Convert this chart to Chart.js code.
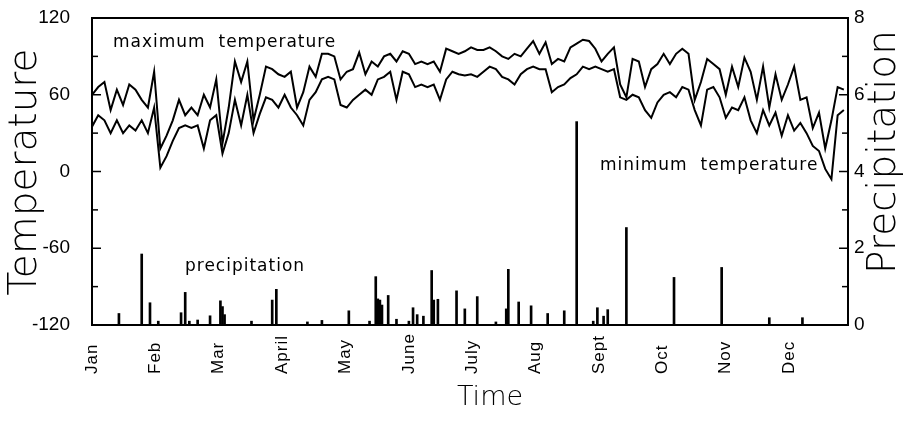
<!DOCTYPE html>
<html>
<head>
<meta charset="utf-8">
<script src="https://cdn.jsdelivr.net/npm/chart.js@4.4.0/dist/chart.umd.min.js"></script>
<style>
  html, body { margin: 0; background: #fff; }
</style>
</head>
<body>
<canvas id="canvas" width="905" height="425"></canvas>
<script>
const canvas = document.getElementById('canvas');
const ctx = canvas.getContext('2d');

// temperatures read every 3 days, starting Jan 1
const tempStep = 3;
const maxTemp = [
  60, 66, 70, 48, 64, 52, 68, 64, 56, 50,
  78, 18, 28, 40, 56, 44, 50, 44, 60, 50,
  72, 22, 50, 86, 70, 86, 40, 60, 82, 80,
  76, 74, 78, 50, 62, 82, 74, 92, 92, 90,
  72, 78, 80, 93, 76, 86, 82, 90, 92, 86,
  94, 92, 84, 86, 84, 86, 78, 96, 94, 92,
  94, 97, 95, 95, 97, 94, 90, 88, 92, 90,
  96, 102, 92, 101, 84, 88, 86, 97, 100, 103,
  102, 96, 86, 92, 97, 68, 58, 88, 86, 66,
  80, 84, 92, 84, 92, 96, 92, 56, 70, 88,
  84, 80, 60, 82, 66, 89, 78, 56, 82, 50,
  76, 56, 68, 82, 56, 58, 34, 46, 18, 40,
  66, 64,
];
const minTemp = [
  35, 44, 40, 30, 40, 30, 36, 32, 40, 30,
  50, 3, 12, 24, 34, 36, 34, 36, 18, 40,
  44, 14, 30, 56, 36, 60, 30, 45, 58, 56,
  50, 60, 50, 44, 36, 56, 62, 72, 74, 72,
  52, 50, 56, 60, 64, 60, 72, 74, 78, 56,
  78, 76, 66, 68, 66, 68, 56, 72, 78, 76,
  75, 76, 74, 78, 82, 80, 74, 72, 68, 76,
  80, 82, 80, 80, 62, 66, 68, 73, 76, 82,
  80, 82, 80, 78, 80, 58, 56, 60, 58, 48,
  42, 54, 60, 62, 58, 66, 64, 48, 36, 64,
  66, 58, 42, 50, 48, 58, 40, 30, 48, 36,
  46, 28, 44, 32, 38, 30, 20, 16, 2, -6,
  44, 48,
];

// precipitation events: day of year and amount
const precipDays = [
  13, 24, 28, 32, 43, 45, 47, 51, 57, 62, 63, 64, 77, 87, 89,
  104, 111, 124, 134, 137, 138, 139, 140, 143, 147, 153, 155, 157, 160,
  164, 165, 167, 176, 180, 186, 195, 200, 201, 206, 212, 220, 228,
  234, 242, 244, 247, 249, 258, 281, 304, 327, 343,
];
const precipValues = [
  0.3, 1.85, 0.58, 0.1, 0.32, 0.85, 0.1, 0.13, 0.24, 0.63, 0.48, 0.27, 0.1, 0.65, 0.93,
  0.08, 0.12, 0.37, 0.1, 1.26, 0.68, 0.65, 0.52, 0.77, 0.15, 0.1, 0.45, 0.27, 0.23,
  1.42, 0.65, 0.67, 0.89, 0.42, 0.74, 0.08, 0.42, 1.45, 0.6, 0.5, 0.3, 0.37,
  5.3, 0.1, 0.45, 0.23, 0.4, 2.54, 1.24, 1.5, 0.19, 0.19,
];

const monthLabels = ['Jan', 'Feb', 'Mar', 'April', 'May', 'June', 'July', 'Aug', 'Sept', 'Oct', 'Nov', 'Dec'];
const monthDays = [0, 30.6, 61.2, 91.8, 122.4, 153, 183.6, 214.2, 244.8, 275.4, 306, 336.6];
const tempTicks = [-120, -90, -60, -30, 0, 30, 60, 90, 120];
const precipTicks = [0, 1, 2, 3, 4, 5, 6, 7, 8];

const toPoints = (values) => values.map((v, i) => ({ x: i * tempStep, y: v }));

const line = (c, x1, y1, x2, y2) => {
  c.beginPath();
  c.moveTo(x1, y1);
  c.lineTo(x2, y2);
  c.stroke();
};

// keep the plot box where the figure has it
const fixedWidth = (w) => (s) => {
  s.width = w;
  s.paddingTop = 0;
  s.paddingBottom = 0;
};

const decor = {
  id: 'decor',
  afterDraw(chart) {
    const c = chart.ctx;
    const a = chart.chartArea;
    const { x, y, y1 } = chart.scales;
    c.save();
    c.strokeStyle = '#000';
    c.fillStyle = '#000';
    c.lineWidth = 2;
    c.strokeRect(a.left, a.top, a.right - a.left, a.bottom - a.top);

    // inward ticks
    c.lineWidth = 1.5;
    tempTicks.forEach((v) => {
      const py = y.getPixelForValue(v);
      line(c, a.left, py, a.left + (v % 60 === 0 ? 9 : 6), py);
    });
    precipTicks.forEach((v) => {
      const py = y1.getPixelForValue(v);
      line(c, a.right, py, a.right - (v % 2 === 0 ? 9 : 6), py);
    });

    // month labels, rotated
    c.font = '17px "Liberation Sans"';
    c.letterSpacing = '1px';
    c.textAlign = 'left';
    c.textBaseline = 'middle';
    monthLabels.forEach((m, i) => {
      c.save();
      c.translate(x.getPixelForValue(monthDays[i]), 374);
      c.rotate(-Math.PI / 2);
      c.fillText(m, 0, 0);
      c.restore();
    });
    c.letterSpacing = '0px';

    // axis titles
    c.font = '200 39px "DejaVu Sans"';
    c.textAlign = 'center';
    c.save();
    c.translate(26, 172);
    c.rotate(-Math.PI / 2);
    c.fillText('Temperature', 0, 0);
    c.restore();
    c.save();
    c.translate(885, 152);
    c.rotate(-Math.PI / 2);
    c.fillText('Precipitation', 0, 0);
    c.restore();
    c.font = '200 27px "DejaVu Sans"';
    c.fillText('Time', 490, 398);

    // series annotations
    c.font = '17px "DejaVu Sans"';
    c.textAlign = 'left';
    c.letterSpacing = '1px';
    c.fillText('maximum  temperature', 113, 43);
    c.fillText('minimum  temperature', 600, 166);
    c.fillText('precipitation', 185, 267);
    c.restore();
  },
};

const chart = new Chart(ctx, {
  type: 'bar',
  data: {
    datasets: [
      {
        type: 'line',
        label: 'maximum temperature',
        data: toPoints(maxTemp),
        yAxisID: 'y',
        borderColor: '#000',
        borderWidth: 2,
        pointRadius: 0,
        tension: 0,
      },
      {
        type: 'line',
        label: 'minimum temperature',
        data: toPoints(minTemp),
        yAxisID: 'y',
        borderColor: '#000',
        borderWidth: 2,
        pointRadius: 0,
        tension: 0,
      },
      {
        type: 'bar',
        label: 'precipitation',
        data: precipDays.map((d, i) => ({ x: d, y: precipValues[i] })),
        yAxisID: 'y1',
        backgroundColor: '#000',
        barThickness: 2,
      },
    ],
  },
  options: {
    responsive: false,
    animation: false,
    layout: { padding: { top: 18 } },
    plugins: { legend: { display: false }, tooltip: { enabled: false } },
    scales: {
      x: {
        type: 'linear',
        min: 0,
        max: 365,
        offset: false,
        ticks: { display: false },
        grid: { display: false, drawTicks: false },
        border: { display: false },
        afterFit: (s) => { s.height = 100; },
      },
      y: {
        position: 'left',
        min: -120,
        max: 120,
        ticks: {
          stepSize: 60,
          color: '#000',
          padding: 22,
          font: { family: 'Liberation Sans', size: 19 },
        },
        grid: { display: false, drawTicks: false },
        border: { display: false },
        afterFit: fixedWidth(92),
      },
      y1: {
        position: 'right',
        min: 0,
        max: 8,
        ticks: {
          stepSize: 2,
          color: '#000',
          padding: 6,
          font: { family: 'Liberation Sans', size: 19 },
        },
        grid: { display: false, drawTicks: false },
        border: { display: false },
        afterFit: fixedWidth(57),
      },
    },
  },
  plugins: [decor],
});
</script>
</body>
</html>
